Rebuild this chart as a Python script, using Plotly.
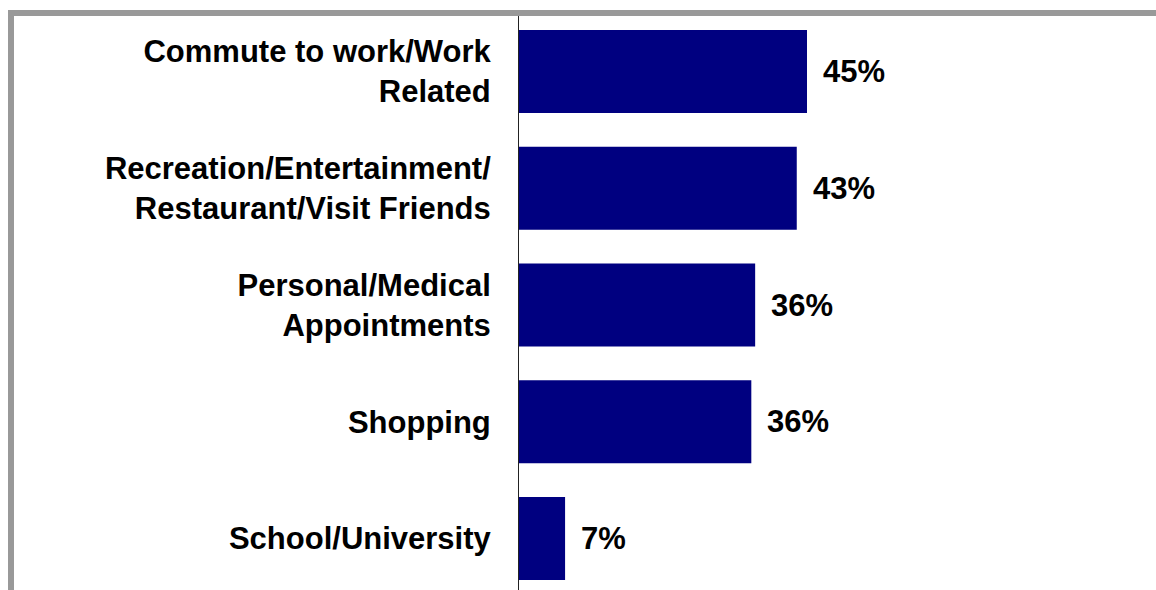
import plotly.graph_objects as go

categories = [
    "Commute to work/Work<br>Related",
    "Recreation/Entertainment/<br>Restaurant/Visit Friends",
    "Personal/Medical<br>Appointments",
    "Shopping",
    "School/University",
]
values = [45.0, 43.4, 36.9, 36.3, 7.2]
value_labels = ["45%", "43%", "36%", "36%", "7%"]

W, H = 1156, 590
L, R, T, B = 519, 0, 16, 0
pw, ph = W - L - R, H - T - B
px_per_pct = 6.4
step = 116.75
first_center = 71.5

def xp(px):
    return (px - L) / pw

def yp(py):
    return 1 - (py - T) / ph

font = "Liberation Sans, Arial, sans-serif"

fig = go.Figure()
fig.add_trace(go.Bar(
    y=categories, x=values, orientation="h",
    marker=dict(color="#000080", line=dict(width=0)),
    width=0.71, hoverinfo="skip",
))

for c, v, t in zip(categories, values, value_labels):
    fig.add_annotation(x=v, y=c, text="<b>%s</b>" % t, showarrow=False,
                       xanchor="left", xshift=14,
                       font=dict(family=font, size=31, color="#000000"))

y_top = -(first_center - T) / step
y_bot = 4 + (H - (first_center + 4 * step)) / step

fig.update_layout(
    width=W, height=H,
    margin=dict(l=L, r=R, t=T, b=B, pad=0),
    paper_bgcolor="white", plot_bgcolor="white",
    showlegend=False,
    xaxis=dict(range=[0, pw / px_per_pct], visible=False, fixedrange=True),
    yaxis=dict(
        type="category", range=[y_bot, y_top], fixedrange=True,
        showline=True, linecolor="#222222", linewidth=1,
        showgrid=False, zeroline=False, ticks="",
        ticklabelstandoff=21,
        tickfont=dict(family=font, size=31, color="#000000", weight="bold"),
    ),
    shapes=[
        dict(type="rect", xref="paper", yref="paper", layer="above",
             x0=xp(8), x1=xp(14), y0=yp(10), y1=yp(H + 5),
             fillcolor="#999999", line=dict(width=0)),
        dict(type="rect", xref="paper", yref="paper", layer="above",
             x0=xp(8), x1=xp(W + 5), y0=yp(10), y1=yp(16),
             fillcolor="#999999", line=dict(width=0)),
    ],
)

fig.write_html("out.html", config={"displayModeBar": False},
               post_script="document.body.style.margin='0';document.body.style.padding='0';")
